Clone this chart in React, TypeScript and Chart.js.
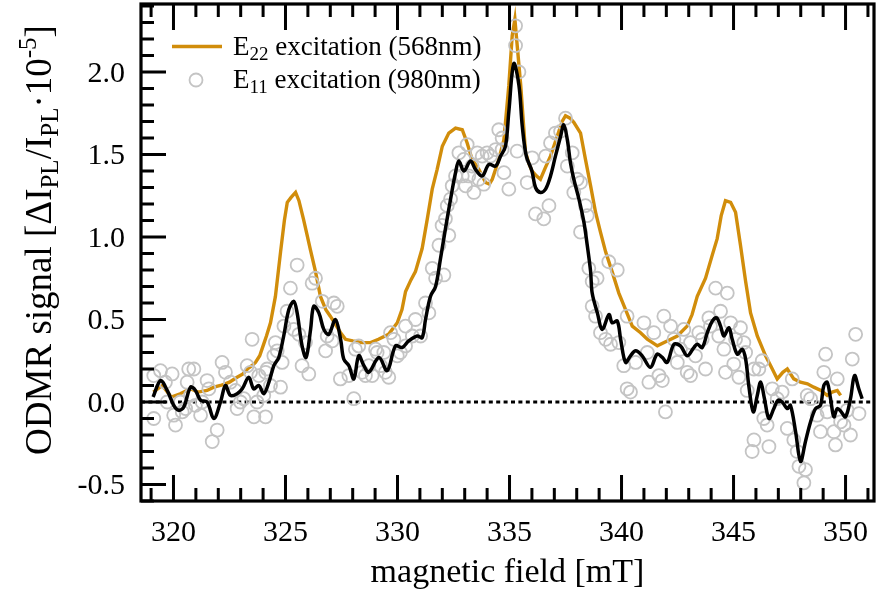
import { useEffect, useRef } from 'react';
import { Chart, registerables } from 'chart.js';

Chart.register(...registerables);

// ---------- data ----------
const xMin = 318.55;
const xMax = 351.27;
const yMin = -0.6;
const yMax = 2.412;
const xTickValues = [320, 325, 330, 335, 340, 345, 350];
const yTickValues = [-0.5, 0.0, 0.5, 1.0, 1.5, 2.0];

// E22 excitation (568nm) – orange line
const e22Field = [
  319.1, 319.5, 319.9, 320.3, 320.75, 321.1, 321.5, 321.8, 322.1, 322.5, 322.84, 323.1, 323.3, 323.5, 323.66,
  323.85, 324.0, 324.15, 324.33, 324.55, 324.78, 324.95, 325.08, 325.25, 325.45, 325.6, 325.8, 325.95, 326.1,
  326.34, 326.56, 326.8, 327.0, 327.23, 327.46, 327.68, 328.0, 328.42, 328.8, 329.15, 329.6, 329.99, 330.2,
  330.36, 330.6, 330.8, 331.1, 331.33, 331.55, 331.77, 332.0, 332.29, 332.59, 332.89, 333.11, 333.33, 333.63,
  333.93, 334.1, 334.23, 334.52, 334.75, 334.97, 335.12, 335.24, 335.35, 335.5, 335.71, 335.85, 336.0, 336.2,
  336.38, 336.6, 336.83, 337.13, 337.35, 337.5, 337.7, 337.87, 338.17, 338.39, 338.62, 338.84, 339.06, 339.29,
  339.58, 339.88, 340.18, 340.48, 340.85, 341.15, 341.6, 342.04, 342.49, 342.93, 343.15, 343.38, 343.75, 344.05,
  344.27, 344.45, 344.64, 344.87, 345.09, 345.31, 345.54, 345.76, 346.06, 346.43, 346.73, 346.95, 347.2, 347.4,
  347.69, 347.99, 348.3, 348.58, 348.9, 349.18, 349.4, 349.63, 349.78,
];
const e22Signal = [
  0.06, 0.10, 0.03, 0.05, 0.08, 0.06, 0.07, 0.09, 0.10, 0.12, 0.15, 0.17, 0.20, 0.22, 0.24,
  0.28, 0.34, 0.40, 0.48, 0.64, 0.91, 1.10, 1.21, 1.24, 1.27, 1.22, 1.11, 1.02, 0.93,
  0.79, 0.64, 0.56, 0.52, 0.47, 0.42, 0.38, 0.37, 0.36, 0.36, 0.38, 0.41, 0.48, 0.56,
  0.67, 0.74, 0.79, 0.93, 1.11, 1.29, 1.41, 1.55, 1.63, 1.66, 1.65, 1.57, 1.47, 1.41,
  1.33, 1.32, 1.35, 1.47, 1.59, 1.92, 2.22, 2.32, 2.15, 1.92, 1.52, 1.45, 1.40, 1.37,
  1.35, 1.42, 1.49, 1.61, 1.70, 1.735, 1.72, 1.695, 1.63, 1.47, 1.31, 1.15, 1.03, 0.91,
  0.79, 0.66, 0.56, 0.46, 0.42, 0.38, 0.34, 0.37, 0.40, 0.46, 0.53, 0.64, 0.75, 0.89,
  0.99, 1.13, 1.22, 1.21, 1.15, 0.95, 0.73, 0.54, 0.40, 0.28, 0.20, 0.14, 0.18, 0.20,
  0.14, 0.12, 0.11, 0.09, 0.07, 0.04, 0.06, 0.07, 0.04,
];

// E11 excitation (980nm) – smoothed black line
const e11SmoothField = [
  319.09, 319.42, 319.72, 320.01, 320.24, 320.46, 320.76, 320.98, 321.21, 321.5, 321.8, 322.1, 322.32, 322.54,
  322.84, 323.07, 323.36, 323.58, 323.81, 324.03, 324.26, 324.48, 324.7, 324.92, 325.15, 325.37, 325.52, 325.74,
  325.92, 326.12, 326.26, 326.49, 326.71, 326.93, 327.23, 327.46, 327.6, 327.83, 328.05, 328.27, 328.5, 328.72,
  329.17, 329.54, 329.91, 330.21, 330.5, 330.88, 331.1, 331.25, 331.47, 331.7, 331.92, 332.14, 332.37, 332.59,
  332.74, 332.96, 333.26, 333.48, 333.78, 334.08, 334.38, 334.6, 334.82, 334.97, 335.19, 335.42, 335.57, 335.75,
  336.0, 336.16, 336.38, 336.61, 336.83, 337.05, 337.28, 337.42, 337.58, 337.72, 337.87, 338.1, 338.32, 338.47,
  338.62, 338.69, 338.92, 339.14, 339.44, 339.58, 339.81, 339.96, 340.18, 340.4, 340.63, 340.92, 341.29, 341.59,
  341.82, 342.04, 342.34, 342.63, 342.93, 343.23, 343.38, 343.6, 343.83, 344.05, 344.24, 344.42, 344.57, 344.79,
  344.94, 345.17, 345.39, 345.54, 345.68, 345.88, 346.06, 346.21, 346.38, 346.58, 346.8, 346.98, 347.17, 347.4,
  347.54, 347.77, 347.99, 348.21, 348.44, 348.66, 348.88, 349.03, 349.18, 349.33, 349.48, 349.63, 349.81, 350.0,
  350.22, 350.4, 350.59, 350.74,
];
const e11SmoothSignal = [
  0.03, 0.13, 0.07, -0.02, -0.05, -0.03, 0.09, 0.07, 0.01, 0.0, -0.10, 0.0, 0.10, 0.04,
  0.05, 0.08, 0.15, 0.08, 0.10, 0.05, 0.12, 0.22, 0.27, 0.40, 0.56, 0.61, 0.54, 0.34,
  0.27, 0.44, 0.58, 0.54, 0.44, 0.41, 0.50, 0.38, 0.26, 0.22, 0.14, 0.28, 0.22, 0.18,
  0.27, 0.19, 0.34, 0.33, 0.37, 0.40, 0.39, 0.50, 0.64, 0.70, 0.87, 1.05, 1.23, 1.39,
  1.46, 1.40, 1.46, 1.41, 1.37, 1.44, 1.43, 1.49, 1.55, 1.76, 2.05, 1.92, 1.67, 1.49,
  1.40, 1.30, 1.27, 1.29, 1.37, 1.49, 1.61, 1.68, 1.59, 1.45, 1.35, 1.23, 1.09, 0.95,
  0.79, 0.66, 0.54, 0.44, 0.53, 0.48, 0.49, 0.38, 0.24, 0.28, 0.31, 0.28, 0.21, 0.29,
  0.27, 0.24, 0.35, 0.34, 0.28, 0.33, 0.35, 0.33, 0.42, 0.49, 0.51, 0.46, 0.40, 0.45,
  0.38, 0.29, 0.32, 0.26, 0.10, -0.06, 0.04, 0.12, 0.02, -0.10, -0.04, 0.01, 0.0, -0.04,
  -0.02, -0.18, -0.36, -0.24, -0.12, -0.04, -0.02, 0.10, 0.12, 0.02, -0.09, -0.04, -0.06, -0.09,
  0.02, 0.16, 0.08, 0.02,
];

// E11 excitation (980nm) – raw points
const e11Field = [
  319.12, 319.42, 319.64, 319.94, 319.12, 319.72, 320.01, 320.09, 320.31, 320.39, 320.54, 320.61, 320.68, 320.91,
  320.76, 320.98, 321.21, 321.28, 321.5, 321.58, 321.73, 321.95, 322.17, 322.32, 322.54, 322.77, 322.84, 322.99,
  323.14, 323.29, 323.44, 323.51, 323.59, 323.73, 323.81, 324.11, 324.03, 324.11, 324.18, 324.33, 324.48, 324.55,
  324.63, 324.78, 324.85, 324.93, 325.07, 325.22, 325.52, 325.37, 325.6, 325.74, 325.89, 326.04, 326.19, 326.34,
  326.64, 326.79, 326.86, 327.08, 327.16, 327.31, 327.45, 327.83, 328.05, 328.12, 328.27, 328.42, 328.57, 328.72,
  328.87, 329.02, 329.09, 329.24, 329.39, 329.46, 329.61, 329.69, 329.84, 329.99, 330.13, 330.36, 330.36, 330.66,
  330.8, 331.03, 331.25, 331.4, 331.55, 331.7, 331.85, 331.99, 332.07, 332.14, 332.29, 332.22, 332.37, 332.44,
  332.59, 332.74, 332.89, 332.96, 333.04, 333.11, 333.18, 333.33, 333.41, 333.56, 333.63, 333.85, 333.78, 334.0,
  334.15, 334.38, 334.52, 334.67, 334.75, 334.67, 334.97, 335.27, 335.27, 335.42, 335.34, 335.79, 336.01, 336.16,
  336.53, 336.61, 336.76, 336.83, 337.05, 337.28, 337.5, 337.58, 337.8, 337.87, 338.02, 338.17, 338.17, 338.39,
  338.47, 338.54, 338.69, 338.91, 338.69, 338.84, 339.06, 339.29, 339.43, 339.81, 339.51, 339.88, 340.1, 340.25,
  340.25, 340.4, 340.63, 341.0, 341.15, 341.22, 341.44, 341.67, 341.82, 341.89, 341.96, 342.19, 342.34, 342.49,
  342.63, 342.78, 342.93, 343.08, 343.3, 343.45, 343.08, 343.6, 343.75, 343.9, 343.97, 344.2, 344.34, 344.42,
  344.57, 344.64, 344.72, 344.87, 345.01, 345.09, 345.24, 345.31, 345.46, 345.54, 345.61, 345.91, 345.91, 345.83,
  346.13, 346.28, 346.35, 346.5, 346.58, 346.73, 346.95, 347.17, 347.4, 347.62, 347.69, 347.84, 347.92, 348.21,
  348.14, 348.29, 348.44, 348.73, 348.88, 349.03, 349.11, 349.18, 349.48, 349.55, 349.63, 349.78, 349.93, 350.07,
  350.22, 350.3, 350.45, 350.6,
];
const e11Signal = [
  0.16, 0.19, 0.12, 0.17, -0.10, 0.0, -0.08, -0.14, 0.0, -0.06, -0.04, 0.12, 0.20, 0.20,
  0.04, -0.02, -0.08, 0.0, 0.13, 0.08, -0.24, -0.17, 0.24, 0.18, 0.12, 0.07, -0.04, 0.0,
  0.02, 0.22, 0.18, 0.38, -0.09, 0.0, 0.16, 0.18, 0.04, -0.09, 0.20, 0.10, 0.28, 0.36,
  0.31, 0.09, 0.24, 0.46, 0.55, 0.69, 0.83, 0.44, 0.41, 0.22, 0.36, 0.17, 0.72, 0.75,
  0.61, 0.31, 0.40, 0.37, 0.60, 0.58, 0.14, 0.16, 0.02, 0.32, 0.34, 0.18, 0.16, 0.22,
  0.16, 0.32, 0.30, 0.22, 0.30, 0.18, 0.15, 0.42, 0.38, 0.28, 0.30, 0.46, 0.34, 0.40,
  0.50, 0.40, 0.60, 0.54, 0.81, 0.75, 0.95, 1.07, 0.77, 1.11, 1.01, 1.19, 1.23, 1.31,
  1.37, 1.51, 1.37, 1.47, 1.31, 1.56, 1.37, 1.43, 1.27, 1.51, 1.35, 1.32, 1.49, 1.51,
  1.49, 1.53, 1.65, 1.53, 1.39, 1.60, 1.29, 2.16, 2.28, 2.0, 1.52, 1.33, 1.48, 1.14,
  1.11, 1.49, 1.19, 1.57, 1.63, 1.64, 1.72, 1.43, 1.51, 1.27, 1.35, 1.33, 1.03, 1.19,
  1.13, 0.81, 0.73, 0.75, 0.58, 0.52, 0.42, 0.38, 0.85, 0.80, 0.35, 0.36, 0.22, 0.52,
  0.08, 0.06, 0.24, 0.48, 0.30, 0.12, 0.42, 0.16, 0.13, 0.52, -0.06, 0.46, 0.38, 0.24,
  0.32, 0.44, 0.18, 0.36, 0.28, 0.42, 0.16, 0.38, 0.20, 0.51, 0.46, 0.69, 0.40, 0.55,
  0.32, 0.18, 0.66, 0.48, 0.23, 0.38, 0.15, 0.45, 0.36, 0.30, 0.07, 0.20, -0.23, -0.30,
  0.20, 0.25, -0.10, -0.14, -0.27, 0.08, 0.02, 0.06, -0.16, 0.14, -0.23, -0.30, -0.39, -0.41,
  -0.49, 0.04, 0.02, -0.08, -0.18, 0.18, 0.29, -0.06, -0.18, -0.26, 0.14, -0.12, -0.14, -0.05,
  -0.20, 0.26, 0.41, -0.07,
];

const legendE22 = ['E', '22', ' excitation (568nm)'];
const legendE11 = ['E', '11', ' excitation (980nm)'];
const xTitle = 'magnetic field [mT]';

// ---------- styles ----------
const SERIF = '"Liberation Serif", "DejaVu Serif", serif';
const ORANGE = '#d18d0b';
const GREY = '#c4c4c4';

type Seg = { t: string; s: number; dy?: number };

function drawSegs(ctx: CanvasRenderingContext2D, segs: Seg[], x: number, y: number, center: boolean) {
  let w = 0;
  for (const sg of segs) {
    ctx.font = `${sg.s}px ${SERIF}`;
    w += ctx.measureText(sg.t).width;
  }
  let cx = center ? x - w / 2 : x;
  ctx.textAlign = 'left';
  ctx.textBaseline = 'alphabetic';
  for (const sg of segs) {
    ctx.font = `${sg.s}px ${SERIF}`;
    ctx.fillText(sg.t, cx, y + (sg.dy || 0));
    cx += ctx.measureText(sg.t).width;
  }
}

const zeroPadding = (s: any) => {
  s.paddingTop = 0;
  s.paddingBottom = 0;
  s.paddingLeft = 0;
  s.paddingRight = 0;
};

const framePlugin = {
  id: 'frameTicksLegend',
  afterDraw(chart: any) {
    const { ctx, chartArea, scales } = chart;
    const { left, right, top, bottom } = chartArea;
    const xs = scales.x;
    const ys = scales.y;
    ctx.save();
    ctx.strokeStyle = '#000';
    ctx.lineCap = 'butt';
    // ticks
    ctx.lineWidth = 3;
    ctx.beginPath();
    for (let v = Math.ceil(xMin); v <= xMax; v++) {
      const px = xs.getPixelForValue(v);
      const len = v % 5 === 0 ? 26 : 13;
      ctx.moveTo(px, bottom);
      ctx.lineTo(px, bottom - len);
      ctx.moveTo(px, top);
      ctx.lineTo(px, top + len);
    }
    for (let i = Math.ceil(yMin * 10); i <= Math.floor(yMax * 10); i++) {
      const py = ys.getPixelForValue(i / 10);
      const len = i % 5 === 0 ? 25 : 13;
      ctx.moveTo(left, py);
      ctx.lineTo(left + len, py);
    }
    ctx.stroke();
    // frame
    ctx.lineWidth = 3.2;
    ctx.strokeRect(left, top, right - left, bottom - top);

    // legend
    ctx.fillStyle = '#000';
    ctx.strokeStyle = ORANGE;
    ctx.lineWidth = 3.5;
    ctx.beginPath();
    ctx.moveTo(172, 46.5);
    ctx.lineTo(222, 46.5);
    ctx.stroke();
    ctx.strokeStyle = GREY;
    ctx.lineWidth = 1.8;
    ctx.beginPath();
    ctx.arc(196, 80, 6.5, 0, Math.PI * 2);
    ctx.stroke();
    drawSegs(ctx, [{ t: legendE22[0], s: 27 }, { t: legendE22[1], s: 19, dy: 5 }, { t: legendE22[2], s: 27 }], 233, 55, false);
    drawSegs(ctx, [{ t: legendE11[0], s: 27 }, { t: legendE11[1], s: 19, dy: 5 }, { t: legendE11[2], s: 27 }], 233, 88, false);

    // x title
    drawSegs(ctx, [{ t: xTitle, s: 34 }], (left + right) / 2, 582, true);

    // y title (rotated)
    ctx.translate(51, 240);
    ctx.rotate(-Math.PI / 2);
    drawSegs(
      ctx,
      [
        { t: 'ODMR signal [ΔI', s: 37 },
        { t: 'PL', s: 25, dy: 7 },
        { t: '/I', s: 37 },
        { t: 'PL', s: 25, dy: 7 },
        { t: '·10', s: 37 },
        { t: '-5', s: 25, dy: -15 },
        { t: ']', s: 37 },
      ],
      0,
      0,
      true
    );
    ctx.restore();
  },
};

export default function App() {
  const ref = useRef<HTMLCanvasElement | null>(null);
  useEffect(() => {
    if (!ref.current) return;
    const chart = new Chart(ref.current, {
      type: 'scatter',
      data: {
        datasets: [
          {
            label: 'E11 smoothed',
            type: 'line',
            data: e11SmoothField.map((x, i) => ({ x, y: e11SmoothSignal[i] })),
            borderColor: '#000',
            borderWidth: 3.5,
            pointRadius: 0,
            tension: 0.35,
            fill: false,
            order: 0,
          } as any,
          {
            label: 'E11 excitation (980nm)',
            data: e11Field.map((x, i) => ({ x, y: e11Signal[i] })),
            borderColor: GREY,
            backgroundColor: 'rgba(0,0,0,0)',
            borderWidth: 1.8,
            pointRadius: 6.5,
            pointHoverRadius: 6.5,
            order: 1,
          },
          {
            label: 'E22 excitation (568nm)',
            type: 'line',
            data: e22Field.map((x, i) => ({ x, y: e22Signal[i] })),
            borderColor: ORANGE,
            borderWidth: 3.4,
            pointRadius: 0,
            tension: 0,
            fill: false,
            order: 2,
          } as any,
          {
            label: 'zero',
            type: 'line',
            data: [
              { x: xMin, y: 0 },
              { x: xMax, y: 0 },
            ],
            borderColor: '#000',
            borderWidth: 3,
            borderDash: [4, 3.4],
            pointRadius: 0,
            fill: false,
            order: 3,
          } as any,
        ],
      },
      options: {
        animation: false,
        responsive: false,
        maintainAspectRatio: false,
        layout: { autoPadding: false, padding: { top: 4, right: 2, left: 0, bottom: 0 } },
        plugins: { legend: { display: false }, tooltip: { enabled: false } },
        scales: {
          x: {
            type: 'linear',
            min: xMin,
            max: xMax,
            grid: { display: false, drawTicks: false },
            border: { display: false },
            afterFit: (s: any) => {
              s.height = 107;
              zeroPadding(s);
            },
            afterBuildTicks: (s: any) => {
              s.ticks = xTickValues.map((v) => ({ value: v }));
            },
            ticks: {
              color: '#000',
              font: { family: SERIF, size: 30 },
              padding: 14,
              maxRotation: 0,
              autoSkip: false,
              callback: (v: any) => String(v),
            },
          },
          y: {
            type: 'linear',
            min: yMin,
            max: yMax,
            grid: { display: false, drawTicks: false },
            border: { display: false },
            afterFit: (s: any) => {
              s.width = 141;
              zeroPadding(s);
            },
            afterBuildTicks: (s: any) => {
              s.ticks = yTickValues.map((v) => ({ value: v }));
            },
            ticks: {
              color: '#000',
              font: { family: SERIF, size: 30 },
              padding: 16,
              labelOffset: 2,
              autoSkip: false,
              callback: (v: any) => Number(v).toFixed(1),
            },
          },
        },
      },
      plugins: [framePlugin],
    });
    return () => chart.destroy();
  }, []);

  return (
    <div style={{ position: 'absolute', left: 0, top: 0, width: 876, height: 608, background: '#fff' }}>
      <canvas ref={ref} width={876} height={608} style={{ display: 'block' }} />
    </div>
  );
}
